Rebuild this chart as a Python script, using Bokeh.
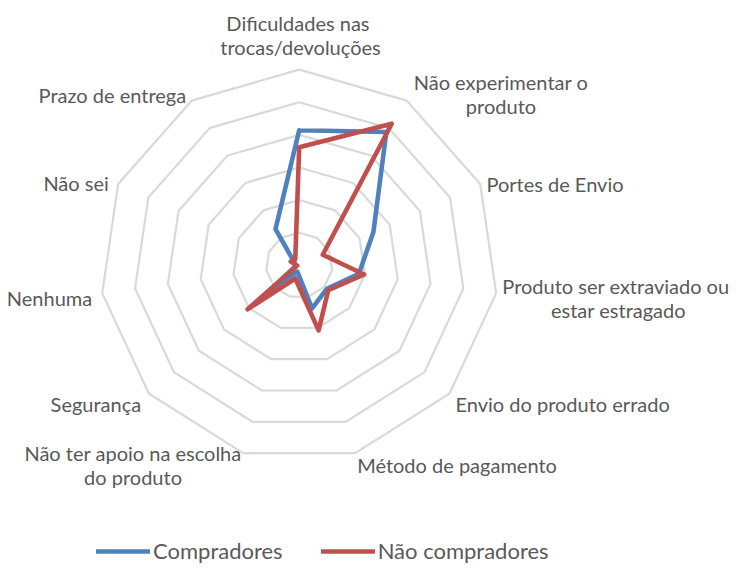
import numpy as np
from bokeh.plotting import figure
from bokeh.models import Range1d, Legend, LegendItem, ColumnDataSource
from bokeh.embed import file_html
from bokeh.resources import INLINE
from bokeh.core.properties import value

# ---------------- data ----------------
categories = [
    "Dificuldades  nas\ntrocas/devoluções",
    "Não experimentar o\nproduto",
    "Portes de Envio",
    "Produto  ser extraviado ou\nestar estragado",
    "Envio do produto errado",
    "Método de pagamento",
    "Não ter apoio na escolha\ndo produto",
    "Segurança",
    "Nenhuma",
    "Não sei",
    "Prazo de entrega",
]
compradores = [20.7, 24.3, 12.3, 9.1, 5.5, 6.9, 1.0, 5.6, 0.5, 0.7, 6.6]
nao_compradores = [18.1, 25.8, 3.9, 9.9, 5.8, 10.4, 2.1, 10.3, 0.3, 1.4, 1.1]
series_names = ["Compradores", "Não compradores"]
ring_levels = [5, 10, 15, 20, 25, 30]

# ---------------- layout / style ----------------
W, H = 738, 569
CX, CY = 298.7, 264.8                   # centre of radar in figure pixels
RMAX = ring_levels[-1]
KX, KY = 199.0 / RMAX, 195.7 / RMAX     # pixels per value unit
BLUE, RED = "#4F81BD", "#C0504D"
GRID = "#D9D9D9"
TEXT = "#595959"
FONT = "Lato"

n = len(categories)
theta = np.pi / 2 - 2 * np.pi * np.arange(n) / n


def polar(vals):
    v = np.asarray(vals, dtype=float)
    x = v * np.cos(theta)
    y = v * np.sin(theta)
    return np.append(x, x[0]), np.append(y, y[0])


p = figure(
    width=W, height=H, output_backend="svg", toolbar_location=None,
    x_range=Range1d(-CX / KX, (W - CX) / KX),
    y_range=Range1d(-(H - CY) / KY, CY / KY),
    min_border=0, outline_line_color=None,
)
p.axis.visible = False
p.grid.visible = False
p.background_fill_color = "white"
p.border_fill_color = "white"

# rings
xs, ys = [], []
for lv in ring_levels:
    rx, ry = polar([lv] * n)
    xs.append(list(rx))
    ys.append(list(ry))
p.multi_line(xs, ys, line_color=GRID, line_width=2.2)

# series
bx, by = polar(compradores)
rx_, ry_ = polar(nao_compradores)
r_blue = p.line(bx, by, line_color=BLUE, line_width=4.6, line_join="round", line_cap="round")
r_red = p.line(rx_, ry_, line_color=RED, line_width=4.6, line_join="round", line_cap="round")

# category labels (anchored at the outer ring vertex)
label_align = ["center", "center", "left", "center", "left", "left", "center", "right", "right", "right", "right"]
label_dx = [1.3, 94.2, 6.2, 122.3, 5.9, 1.9, -110.1, -7.6, -10.0, -9.4, -5.4]
label_dy = [-34.7, -6.4, -0.2, 4.9, 10.3, 12.4, 11.7, 10.3, 4.7, -0.8, -5.2]
lsrc = ColumnDataSource(dict(
    x=RMAX * np.cos(theta), y=RMAX * np.sin(theta), text=categories,
    align=label_align, dx=label_dx, dy=label_dy,
))
p.text(x="x", y="y", text="text", source=lsrc, x_offset="dx", y_offset="dy",
       text_align="align", text_baseline="middle",
       text_font=value(FONT), text_font_size="20px", text_color=TEXT,
       text_line_height=1.0)

legend = Legend(
    items=[LegendItem(label=series_names[0], renderers=[r_blue]),
           LegendItem(label=series_names[1], renderers=[r_red])],
    orientation="horizontal", location=(96, 5),
    glyph_width=54, glyph_height=20, label_height=20, label_standoff=3,
    spacing=38, padding=0, margin=0,
    border_line_color=None, background_fill_alpha=0,
    label_text_font=FONT, label_text_font_size="22px", label_text_color=TEXT,
)
p.add_layout(legend, "center")

open("out.html", "w").write(file_html(p, INLINE))
